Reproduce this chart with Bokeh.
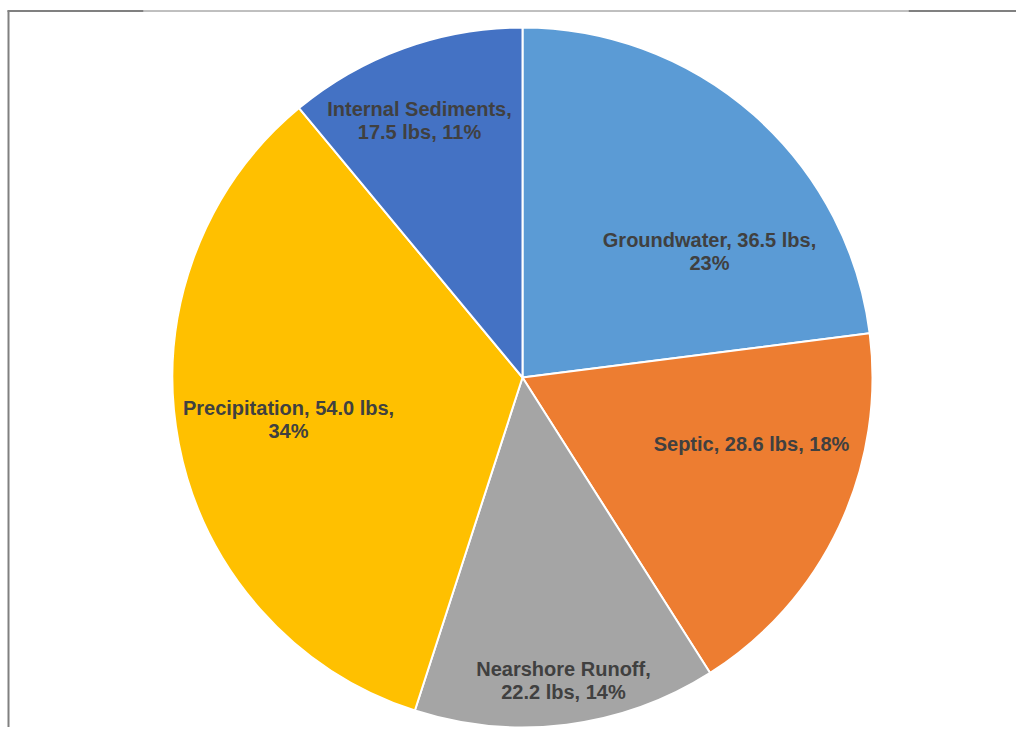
import math
from bokeh.plotting import figure
from bokeh.models import ColumnDataSource, Range1d
from bokeh.core.properties import value
from bokeh.embed import file_html
from bokeh.resources import INLINE

# ---- data ----
categories = ["Groundwater", "Septic", "Nearshore Runoff", "Precipitation", "Internal Sediments"]
loads_lbs = [36.5, 28.6, 22.2, 54.0, 17.5]
colors = ["#5B9BD5", "#ED7D31", "#A5A5A5", "#FFC000", "#4472C4"]
label_lines = [
    ["{name}, {val} lbs,", "{pct}%"],
    ["{name}, {val} lbs, {pct}%"],
    ["{name},", "{val} lbs, {pct}%"],
    ["{name}, {val} lbs,", "{pct}%"],
    ["{name},", "{val} lbs, {pct}%"],
]

# ---- layout (screen pixel coordinates, origin top-left of figure) ----
W, H = 1016, 727
def px(x):
    return x
def py(y):
    return H - y

cx, cy, R = px(522), py(377), 350
label_pos = [(709, 250.5), (751, 443), (563, 679.5), (288, 418.5), (419, 119.5)]
line_gap = 23

total = sum(loads_lbs)
starts, ends, pcts = [], [], []
cum = 0.0
for v in loads_lbs:
    starts.append(math.pi / 2 - 2 * math.pi * cum / total)
    cum += v
    ends.append(math.pi / 2 - 2 * math.pi * cum / total)
    pcts.append(round(100 * v / total))

p = figure(width=W, height=H, output_backend="svg", toolbar_location=None,
           x_range=Range1d(0, W), y_range=Range1d(0, H),
           x_axis_location=None, y_axis_location=None, min_border=0,
           outline_line_color=None)
p.grid.visible = False
p.background_fill_color = "white"
p.border_fill_color = "white"

src = ColumnDataSource(dict(start=starts, end=ends, color=colors))
p.wedge(x=cx, y=cy, radius=R, start_angle="start", end_angle="end",
        direction="clock", fill_color="color", line_color="white",
        line_width=2, source=src)

tx, ty, tt = [], [], []
for i, name in enumerate(categories):
    lines = [l.format(name=name, val=f"{loads_lbs[i]:.1f}", pct=pcts[i]) for l in label_lines[i]]
    lx, ly = label_pos[i]
    n = len(lines)
    for k, line in enumerate(lines):
        yy = ly + (k - (n - 1) / 2) * line_gap
        tx.append(px(lx))
        ty.append(py(yy))
        tt.append(line)

p.text(x=tx, y=ty, text=tt, text_align="center", text_baseline="middle",
       text_font=value("Liberation Sans"), text_font_style="bold",
       text_font_size="20px", text_color="#404040")

# frame lines
gray = "#808080"
p.segment(x0=[px(7)], y0=[py(10.5)], x1=[px(143)], y1=[py(10.5)], line_color=gray, line_width=2)
p.segment(x0=[px(143)], y0=[py(10.5)], x1=[px(908)], y1=[py(10.5)], line_color=gray, line_width=1)
p.segment(x0=[px(908)], y0=[py(10.5)], x1=[W], y1=[py(10.5)], line_color=gray, line_width=2)
p.segment(x0=[px(8)], y0=[py(10)], x1=[px(8)], y1=[0], line_color=gray, line_width=2)

open("out.html", "w").write(file_html(p, INLINE))
